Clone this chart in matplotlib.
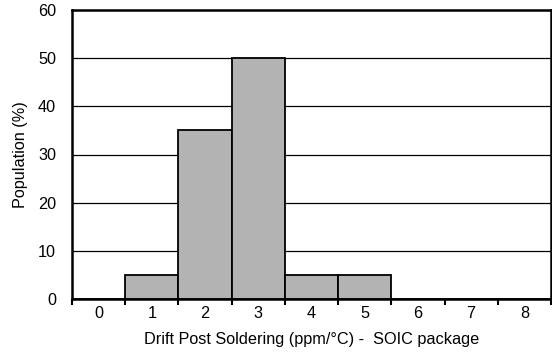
import matplotlib
matplotlib.use("Agg")
import matplotlib.pyplot as plt
import numpy as np

categories = [0, 1, 2, 3, 4, 5, 6, 7, 8]
population = [0, 5, 35, 50, 5, 5, 0, 0, 0]
yticks = [0, 10, 20, 30, 40, 50, 60]

plt.rcParams['font.family'] = ['Liberation Sans', 'DejaVu Sans']
FS = 11.7

fig = plt.figure(figsize=(5.52, 3.54), dpi=100)
ax = fig.add_axes([72/552, 1-299/354, (551-72)/552, (299-10)/354])

for y in yticks[1:-1]:
    ax.axhline(y, color='black', lw=0.9, zorder=1)

ax.bar(categories, population, width=1.0, color='#b3b3b3', edgecolor='black',
       linewidth=1.3, zorder=2)

ax.set_xlim(-0.5, 8.5)
ax.set_ylim(0, 60)
ax.set_yticks(yticks)
ax.set_xticks(categories)
ax.set_xticks(np.arange(-0.5, 9, 1.0), minor=True)
ax.tick_params(axis='x', which='major', length=0, labelsize=FS, pad=5)
ax.tick_params(axis='x', which='minor', length=4, width=1.5, direction='out')
ax.tick_params(axis='y', which='major', length=0, labelsize=FS, pad=11.5)
for s in ax.spines.values():
    s.set_linewidth(1.8)
    s.set_zorder(3)

ax.set_xlabel('Drift Post Soldering (ppm/°C) -  SOIC package', fontsize=FS, labelpad=8)
ax.set_ylabel('Population (%)', fontsize=FS, labelpad=7)

fig.savefig('out.png', dpi=100)
